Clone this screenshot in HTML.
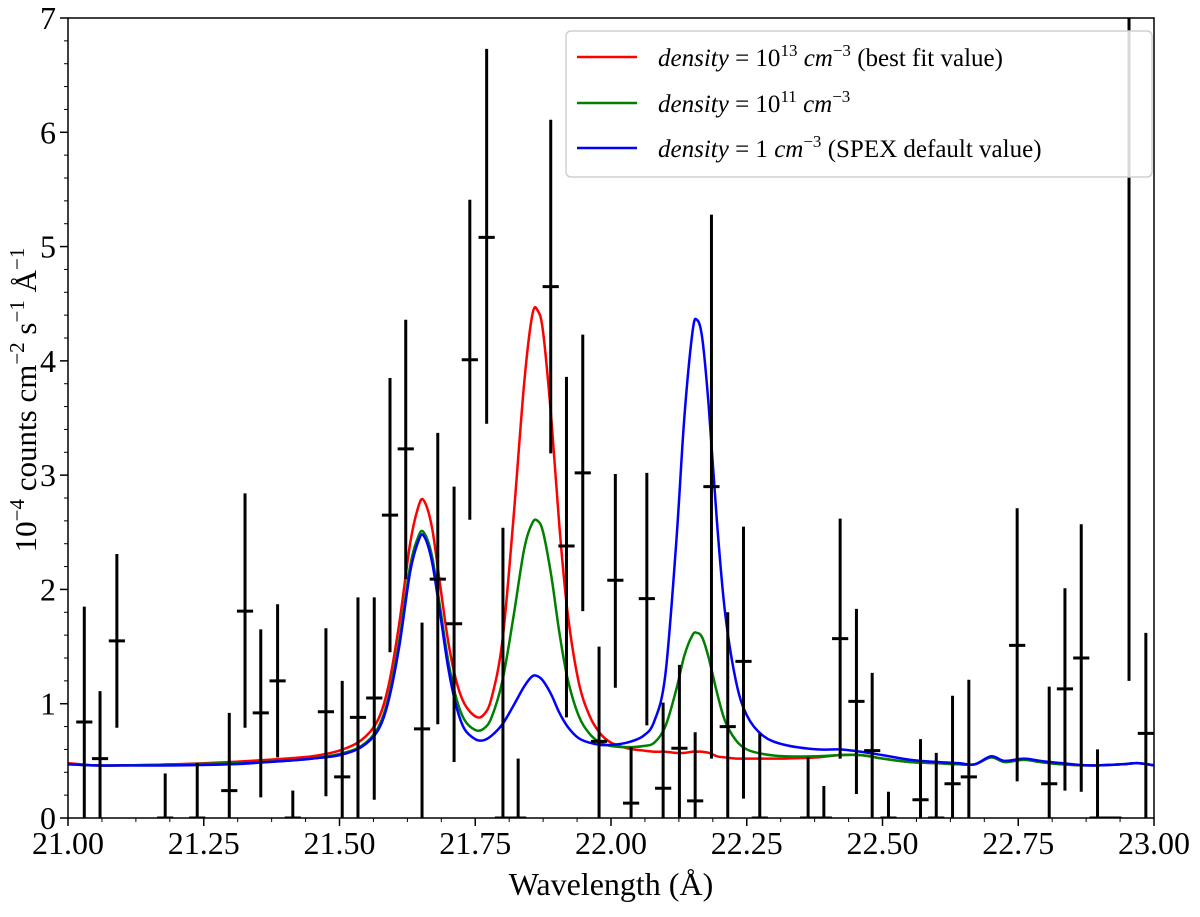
<!DOCTYPE html>
<html><head><meta charset="utf-8"><style>
html,body{margin:0;padding:0;background:#fff;}
svg{display:block;font-family:"Liberation Serif",serif;}
</style></head><body>
<svg id="chart" width="1200" height="917" viewBox="0 0 1200 917">
<g id="axes"></g>
<g id="curves"></g>
<g id="errs"></g>
<rect x="68" y="18" width="1086" height="800" fill="none" stroke="#000" stroke-width="1.5"/>
<text x="611" y="895" font-size="32" text-anchor="middle">Wavelength (Å)</text>
<text transform="translate(36,400) rotate(-90)" font-size="31" text-anchor="middle">10<tspan dy="-12" font-size="21">−4</tspan><tspan dy="12"> counts  cm</tspan><tspan dy="-12" font-size="21">−2</tspan><tspan dy="12"> s</tspan><tspan dy="-12" font-size="21">−1</tspan><tspan dy="12"> Å</tspan><tspan dy="-12" font-size="21">−1</tspan></text>
<g>
<rect x="566" y="31" width="586" height="146" rx="5" fill="#fff" fill-opacity="0.85" stroke="#d0d0d0" stroke-width="1.5"/>
<g><line x1="577" y1="57" x2="637" y2="57" stroke="#f00" stroke-width="2.5"/><text x="658" y="66" font-size="25"><tspan font-style="italic">density</tspan> = 10<tspan dy="-10" font-size="17">13</tspan><tspan dy="10" font-style="italic"> cm</tspan><tspan dy="-10" font-size="17">−3</tspan><tspan dy="10"> (best fit value)</tspan></text></g>
<g><line x1="577" y1="103" x2="637" y2="103" stroke="#008000" stroke-width="2.5"/><text x="658" y="112" font-size="25"><tspan font-style="italic">density</tspan> = 10<tspan dy="-10" font-size="17">11</tspan><tspan dy="10" font-style="italic"> cm</tspan><tspan dy="-10" font-size="17">−3</tspan></text></g>
<g><line x1="577" y1="148" x2="637" y2="148" stroke="#00f" stroke-width="2.5"/><text x="658" y="157" font-size="25"><tspan font-style="italic">density</tspan> = 1<tspan font-style="italic"> cm</tspan><tspan dy="-10" font-size="17">−3</tspan><tspan dy="10"> (SPEX default value)</tspan></text></g>
</g>
</svg>
<script>
const xTicks=["21.00","21.25","21.50","21.75","22.00","22.25","22.50","22.75","23.00"];
const yTicks=["0","1","2","3","4","5","6","7"];
const obsX=[21.030,21.059,21.090,21.179,21.238,21.297,21.326,21.355,21.386,21.414,21.475,21.505,21.534,21.564,21.593,21.622,21.652,21.681,21.711,21.740,21.771,21.801,21.829,21.889,21.918,21.948,21.978,22.008,22.037,22.066,22.096,22.126,22.155,22.185,22.215,22.244,22.274,22.363,22.392,22.422,22.452,22.481,22.511,22.570,22.599,22.629,22.659,22.748,22.807,22.836,22.866,22.896,22.925,22.954,22.985];
const obsY=[0.84,0.52,1.55,0,0,0.24,1.81,0.92,1.20,0,0.93,0.36,0.88,1.05,2.65,3.23,0.78,2.09,1.70,4.01,5.08,0,0,4.65,2.38,3.02,0.67,2.08,0.13,1.92,0.26,0.61,0.15,2.90,0.80,1.37,0,0,0,1.57,1.02,0.59,0,0.16,0,0.30,0.36,1.51,0.30,1.13,1.40,0,0,7.5,0.74];
const obsLo=[0,0,0.79,0,0,0,0.79,0.18,0.53,0,0.19,0,0,0.16,1.45,2.09,0,0.82,0.49,2.61,3.45,0,0,3.19,0.88,1.81,0,1.14,0,0.81,0,0,0,0.52,0,0.17,0,0,0,0.52,0.21,0,0,0,0,0,0,0.32,0,0.24,0.23,0,0,1.20,0];
const obsHi=[1.85,1.11,2.31,0.39,0.48,0.92,2.84,1.65,1.87,0.24,1.66,1.20,1.93,1.93,3.85,4.36,1.71,3.37,2.90,5.41,6.73,2.54,0.52,6.11,3.86,4.23,1.50,3.01,0.62,3.02,1.01,1.34,0.75,5.28,1.80,2.55,0.74,0.53,0.28,2.62,1.83,1.27,0.23,0.69,0.57,1.07,1.21,2.71,1.15,2.01,2.57,0.60,0,12,1.62];
const modelX=[21.00,21.05,21.10,21.20,21.30,21.40,21.45,21.50,21.54,21.57,21.59,21.61,21.63,21.645,21.655,21.67,21.685,21.70,21.715,21.73,21.75,21.765,21.78,21.80,21.82,21.84,21.855,21.865,21.875,21.89,21.905,21.92,21.94,21.96,21.98,22.00,22.03,22.06,22.08,22.10,22.12,22.135,22.15,22.158,22.168,22.18,22.195,22.21,22.23,22.25,22.28,22.32,22.38,22.42,22.46,22.50,22.55,22.60,22.64,22.67,22.70,22.725,22.76,22.79,22.83,22.88,22.94,22.97,23.00];
const redY=[0.48,0.46,0.46,0.47,0.49,0.52,0.54,0.59,0.68,0.85,1.15,1.70,2.40,2.72,2.78,2.55,2.05,1.55,1.20,1.00,0.89,0.90,1.05,1.55,2.60,3.80,4.40,4.44,4.25,3.50,2.55,1.80,1.20,0.90,0.74,0.66,0.61,0.59,0.58,0.58,0.57,0.57,0.58,0.58,0.58,0.57,0.54,0.53,0.52,0.52,0.52,0.52,0.53,0.55,0.55,0.52,0.49,0.48,0.47,0.47,0.53,0.49,0.51,0.49,0.47,0.46,0.47,0.48,0.46];
const greenY=[0.47,0.46,0.46,0.47,0.48,0.50,0.52,0.56,0.63,0.78,1.05,1.55,2.20,2.46,2.50,2.30,1.85,1.38,1.05,0.86,0.77,0.78,0.88,1.20,1.75,2.35,2.58,2.60,2.50,2.12,1.62,1.22,0.90,0.74,0.66,0.63,0.62,0.63,0.66,0.80,1.12,1.42,1.60,1.62,1.58,1.40,1.10,0.85,0.68,0.60,0.56,0.54,0.54,0.55,0.55,0.52,0.49,0.48,0.47,0.47,0.53,0.49,0.51,0.49,0.47,0.46,0.47,0.48,0.46];
const blueY=[0.47,0.46,0.46,0.46,0.47,0.50,0.52,0.55,0.62,0.76,1.02,1.50,2.15,2.42,2.47,2.25,1.80,1.32,0.98,0.78,0.69,0.68,0.72,0.82,0.98,1.15,1.24,1.24,1.20,1.08,0.92,0.80,0.70,0.66,0.64,0.64,0.66,0.72,0.85,1.25,2.40,3.50,4.25,4.36,4.20,3.60,2.60,1.80,1.20,0.90,0.72,0.64,0.60,0.60,0.58,0.55,0.51,0.49,0.48,0.47,0.54,0.50,0.52,0.50,0.48,0.46,0.47,0.48,0.46];

const L=68,R=1154,T=18,B=818;
const X=v=>L+(v-21)/2*(R-L);
const Y=v=>B-v/7*(B-T);
const NS="http://www.w3.org/2000/svg";
function mk(tag,attrs,parent){const e=document.createElementNS(NS,tag);for(const k in attrs)e.setAttribute(k,attrs[k]);parent.appendChild(e);return e;}
const axes=document.getElementById('axes');
xTicks.forEach(t=>{
  const x=X(parseFloat(t));
  const tk=mk('line',{x1:x,y1:B,x2:x,y2:B+8,stroke:'#000','stroke-width':1.5},axes);
  
  
  const lb=mk('text',{x:x,y:B+36,'font-size':32,'text-anchor':'middle'},axes);
  lb.textContent=t;
  
  
});
for(let i=0;i<=32;i++){if(i%4===0)continue;const x=X(21+i*0.0625);
  const m=mk('line',{x1:x,y1:B,x2:x,y2:B+4,stroke:'#000','stroke-width':1},axes);
  
  }
yTicks.forEach(t=>{
  const y=Y(parseFloat(t));
  const tk=mk('line',{x1:L-8,y1:y,x2:L,y2:y,stroke:'#000','stroke-width':1.5},axes);
  
  
  const lb=mk('text',{x:L-12,y:y+11,'font-size':32,'text-anchor':'end'},axes);
  lb.textContent=t;
  
  
});
for(let i=0;i<=35;i++){if(i%5===0)continue;const y=Y(i*0.2);
  const m=mk('line',{x1:L-4,y1:y,x2:L,y2:y,stroke:'#000','stroke-width':1},axes);
  
  }

const curves=document.getElementById('curves');
function drawCurve(ys,color,name){
  const pts=modelX.map((x,i)=>[X(x),Y(ys[i])]);
  let d='M'+pts[0][0]+','+pts[0][1];
  for(let i=0;i<pts.length-1;i++){
    const p0=pts[Math.max(0,i-1)],p1=pts[i],p2=pts[i+1],p3=pts[Math.min(pts.length-1,i+2)];
    const c1=[p1[0]+(p2[0]-p0[0])/6,p1[1]+(p2[1]-p0[1])/6];
    const c2=[p2[0]-(p3[0]-p1[0])/6,p2[1]-(p3[1]-p1[1])/6];
    d+=' C'+c1[0]+','+c1[1]+' '+c2[0]+','+c2[1]+' '+p2[0]+','+p2[1];
  }
  const p=mk('path',{d:d,fill:'none',stroke:color,'stroke-width':2.5,'clip-path':'url(#clip)'},curves);
  
  
}
const defs=mk('defs',{},document.getElementById('chart'));
const cp=mk('clipPath',{id:'clip'},defs);
mk('rect',{x:L,y:T,width:R-L,height:B-T},cp);
drawCurve(redY,'#f00','red-model-curve');
drawCurve(greenY,'#008000','green-model-curve');
drawCurve(blueY,'#00f','blue-model-curve');

const errs=document.getElementById('errs');
errs.setAttribute('clip-path','url(#clip)');
obsX.forEach((x,i)=>{
  const g=mk('g',{},errs);
  
  
  const px=X(x);
  mk('line',{x1:px,y1:Y(obsLo[i]),x2:px,y2:Y(obsHi[i]),stroke:'#000','stroke-width':3},g);
  mk('line',{x1:X(x-0.0149),y1:Y(obsY[i]),x2:X(x+0.0149),y2:Y(obsY[i]),stroke:'#000','stroke-width':3},g);
});
</script>
</body></html>
